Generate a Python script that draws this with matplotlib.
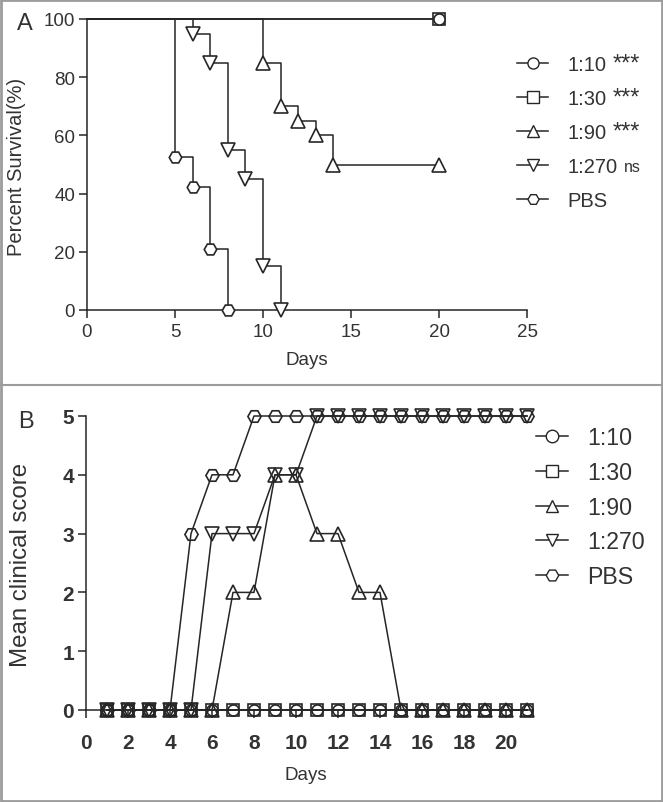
import matplotlib
matplotlib.use("Agg")
import matplotlib.pyplot as plt
from matplotlib.lines import Line2D
from matplotlib.patches import Rectangle

plt.rcParams['font.family'] = ['Liberation Sans', 'DejaVu Sans']

# ---------------- data: panel A (Kaplan-Meier survival) ----------------
groups = ['1:10', '1:30', '1:90', '1:270', 'PBS']
sig_marks = ['***', '***', '***', 'ns', '']
markers = ['o', 's', '^', 'v', 'H']

a_t_110 = [0, 20]
a_s_110 = [100, 100]
a_t_130 = [0, 20]
a_s_130 = [100, 100]
a_t_190 = [0, 10, 11, 12, 13, 14, 20]
a_s_190 = [100, 85, 70, 65, 60, 50, 50]
a_t_1270 = [0, 6, 7, 8, 9, 10, 11]
a_s_1270 = [100, 95, 85, 55, 45, 15, 0]
a_t_pbs = [0, 5, 6, 7, 8]
a_s_pbs = [100, 52.6, 42.1, 21.1, 0]

a_xticks = [0, 5, 10, 15, 20, 25]
a_yticks = [0, 20, 40, 60, 80, 100]

# ---------------- data: panel B (mean clinical score) ----------------
b_days = [1, 2, 3, 4, 5, 6, 7, 8, 9, 10, 11, 12, 13, 14, 15, 16, 17, 18, 19, 20, 21]
b_110 = [0, 0, 0, 0, 0, 0, 0, 0, 0, 0, 0, 0, 0, 0, 0, 0, 0, 0, 0, 0, 0]
b_130 = [0, 0, 0, 0, 0, 0, 0, 0, 0, 0, 0, 0, 0, 0, 0, 0, 0, 0, 0, 0, 0]
b_190 = [0, 0, 0, 0, 0, 0, 2, 2, 4, 4, 3, 3, 2, 2, 0, 0, 0, 0, 0, 0, 0]
b_1270 = [0, 0, 0, 0, 0, 3, 3, 3, 4, 4, 5, 5, 5, 5, 5, 5, 5, 5, 5, 5, 5]
b_pbs = [0, 0, 0, 0, 3, 4, 4, 5, 5, 5, 5, 5, 5, 5, 5, 5, 5, 5, 5, 5, 5]

b_xticks = [0, 2, 4, 6, 8, 10, 12, 14, 16, 18, 20]
b_yticks = [0, 1, 2, 3, 4, 5]

INK = '#262626'
TXT = '#333333'

W, H = 663, 803
fig = plt.figure(figsize=(W / 100, H / 100), dpi=100)

def fx(px):
    return px / W

def fy(py):
    return 1 - py / H

# ---------------- panel A ----------------
axA = fig.add_axes([fx(87), fy(311), fx(527) - fx(87), fy(20) - fy(311)])
a_series = [(a_t_110, a_s_110), (a_t_130, a_s_130), (a_t_190, a_s_190),
            (a_t_1270, a_s_1270), (a_t_pbs, a_s_pbs)]
msA = {'o': 8, 's': 8, '^': 9.5, 'v': 9.5, 'H': 9}
order = [2, 3, 4, 1, 0]
for i in order:
    t, s = a_series[i]
    axA.step(t, s, where='post', color=INK, lw=1.1, clip_on=False, zorder=2)
    axA.plot(t[1:], s[1:], ls='none', marker=markers[i], ms=msA[markers[i]],
             mfc='white', mec=INK, mew=1.2, clip_on=False, zorder=3)

axA.set_xlim(0, 25)
axA.set_ylim(0, 100)
axA.set_xticks(a_xticks)
axA.set_yticks(a_yticks)
for sp in ['top', 'right']:
    axA.spines[sp].set_visible(False)
for sp in ['left', 'bottom']:
    axA.spines[sp].set_color(INK)
    axA.spines[sp].set_linewidth(1.1)
axA.tick_params(direction='out', length=5.5, width=1.1, color=INK,
                labelsize=13.5, labelcolor=TXT, pad=3)
axA.tick_params(axis='x', pad=4)

handlesA = [Line2D([0], [0], color=INK, lw=1.1, marker=m, ms=8, mfc='white',
                   mec=INK, mew=1.0) for m in markers]
legA = axA.legend(handlesA, groups, loc='upper left',
                  bbox_to_anchor=(fx(517), fy(56)), bbox_transform=fig.transFigure,
                  frameon=False, fontsize=14.5, handlelength=1.55,
                  handletextpad=0.95, labelspacing=0.74, borderpad=0,
                  borderaxespad=0)
for t in legA.get_texts():
    t.set_color(TXT)

fig.text(fx(17), fy(167), 'Percent Survival(%)', rotation=90, ha='center',
         va='center', fontsize=14.5, color=TXT)
fig.text(fx(307), fy(361), 'Days', ha='center', va='center', fontsize=13.5,
         color=TXT)
fig.text(fx(25), fy(24), 'A', ha='center', va='center', fontsize=17, color=TXT)

# ---------------- panel B ----------------
axB = fig.add_axes([fx(86), fy(711), fx(86 + 21.3 * 21) - fx(86), fy(417) - fy(711)])
b_series = [b_110, b_130, b_190, b_1270, b_pbs]
msB = {'o': 8, 's': 8, '^': 10, 'v': 10, 'H': 9.5}
for i in range(5):
    axB.plot(b_days, b_series[i], color=INK, lw=1.1, marker=markers[i],
             ms=msB[markers[i]], mfc='none', mec=INK, mew=1.2, clip_on=False,
             zorder=3)

axB.set_xlim(0, 21.3)
axB.set_ylim(0, 5)
axB.set_xticks(b_xticks)
axB.set_yticks(b_yticks)
for sp in ['top', 'right']:
    axB.spines[sp].set_visible(False)
for sp in ['left', 'bottom']:
    axB.spines[sp].set_color(INK)
    axB.spines[sp].set_linewidth(1.1)
axB.tick_params(direction='out', length=5.5, width=1.1, color=INK,
                labelsize=15, labelcolor=TXT, pad=3)
axB.tick_params(axis='x', pad=11)
for lab in axB.get_xticklabels() + axB.get_yticklabels():
    lab.set_fontweight('bold')

handlesB = [Line2D([0], [0], color=INK, lw=1.1, marker=m, ms=9, mfc='white',
                   mec=INK, mew=1.0) for m in markers]
legB = axB.legend(handlesB, groups, loc='upper left',
                  bbox_to_anchor=(fx(536), fy(427.5)), bbox_transform=fig.transFigure,
                  frameon=False, fontsize=16.7, handlelength=1.38,
                  handletextpad=0.82, labelspacing=0.5, borderpad=0,
                  borderaxespad=0)
for t in legB.get_texts():
    t.set_color(TXT)

fig.text(fx(21), fy(565), 'Mean clinical score', rotation=90, ha='center',
         va='center', fontsize=17.3, color=TXT)
fig.text(fx(306), fy(776), 'Days', ha='center', va='center', fontsize=13.5,
         color=TXT)
fig.text(fx(26), fy(422), 'B', ha='center', va='center', fontsize=17, color=TXT)

# ---------------- significance marks next to legend A labels ----------------
fig.canvas.draw()
renderer = fig.canvas.get_renderer()
for txt, mark in zip(legA.get_texts(), sig_marks):
    if not mark:
        continue
    bb = txt.get_window_extent(renderer)
    baseline = bb.y0 + 0.212 * 14.5 * 100 / 72
    size = 17 if mark == '***' else 11.5
    fig.text((bb.x1 + 6) / W, baseline / H, mark, ha='left', va='baseline',
             fontsize=size, color=TXT)

# ---------------- frame and separator ----------------
fig.patches.append(Rectangle((0.0015, 0.0015), 0.997, 0.997, transform=fig.transFigure,
                             fill=False, edgecolor='#9c9c9c', lw=2))
fig.lines.append(Line2D([0, 1], [fy(386), fy(386)], transform=fig.transFigure,
                        color='#9c9c9c', lw=1.5))

fig.savefig('out.png', dpi=100)
